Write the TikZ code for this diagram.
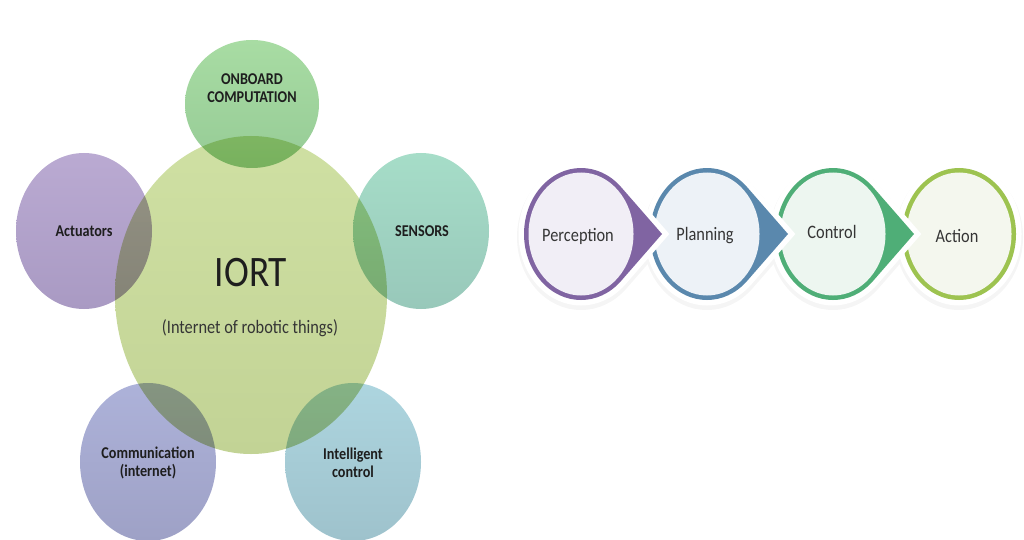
\documentclass[tikz,border=0pt]{standalone}
\usepackage{fontspec}
\setmainfont{Carlito}[FakeStretch=0.86]
\definecolor{cenT}{HTML}{CFE0A3}
\definecolor{cenB}{HTML}{C2D395}
\definecolor{onbT}{HTML}{A8DCA3}
\definecolor{onbB}{HTML}{96CB96}
\definecolor{actT}{HTML}{BAAAD2}
\definecolor{actB}{HTML}{A99AC3}
\definecolor{senT}{HTML}{A6DDC8}
\definecolor{senB}{HTML}{98C8BA}
\definecolor{comT}{HTML}{ADB2D9}
\definecolor{comB}{HTML}{9EA1C6}
\definecolor{intT}{HTML}{ADD5DF}
\definecolor{intB}{HTML}{9EC2CC}
\definecolor{cPer}{HTML}{8064A2}
\definecolor{cPln}{HTML}{5A88AD}
\definecolor{cCtl}{HTML}{4FAE77}
\definecolor{cAct}{HTML}{9DC350}
\definecolor{lPer}{HTML}{F1EEF6}
\definecolor{lPln}{HTML}{EDF2F7}
\definecolor{lCtl}{HTML}{EDF6F0}
\definecolor{lAct}{HTML}{F4F7EE}
\definecolor{txt}{HTML}{1E1E1E}
\begin{document}
\begin{tikzpicture}[x=1pt,y=-1pt,
  lbl/.style={font=\fontsize{16.5}{18}\selectfont\bfseries, text=txt, align=center, inner sep=0pt},
  stagetxt/.style={font=\fontsize{19}{22}\selectfont, text=txt!90, inner sep=0pt}]
\useasboundingbox (0,0) rectangle (1024,540);
% Venn-like cluster
\begin{scope}[blend group=multiply]
  \shade[top color=cenT, bottom color=cenB] (251,295) ellipse[x radius=136, y radius=159];
  \shade[top color=onbT, bottom color=onbB] (252,104) ellipse[x radius=67, y radius=64];
  \shade[top color=actT, bottom color=actB] (84,231) ellipse[x radius=68, y radius=78];
  \shade[top color=senT, bottom color=senB] (421,231) ellipse[x radius=68, y radius=78];
  \shade[top color=comT, bottom color=comB] (148,462) ellipse[x radius=68, y radius=79];
  \shade[top color=intT, bottom color=intB] (353,462) ellipse[x radius=68, y radius=79];
\end{scope}
\node[font=\fontsize{43.5}{48}\selectfont, text=txt, inner sep=0pt] (iort) at (251,273) {IORT};
\node[font=\fontsize{19}{22}\selectfont, text=txt!90, inner sep=0pt] (iortsub) at (250,328) {(Internet of robotic things)};
\node[lbl] (onb) at (252,88) {ONBOARD\\COMPUTATION};
\node[lbl] (act) at (84,231) {Actuators};
\node[lbl] (sen) at (422,231) {SENSORS};
\node[lbl] (com) at (148,463) {Communication\\(internet)};
\node[lbl] (intc) at (353,463) {Intelligent\\control};
% process: soft shadows
\fill[black!4] (959,237) ellipse[x radius=64, y radius=73];
\foreach \cx in {833,707,581} {
  \draw[black!4, fill=black!4, line width=14, line join=miter]
    (\cx+81,237) -- (\cx+40.1,237-46.9)
    arc[start angle=-45.3, end angle=-314.7, x radius=57, y radius=66] -- cycle;
}
% last stage: plain ring
\fill[white] (959,234) ellipse[x radius=62.5, y radius=71.5];
\fill[cAct] (959,234) ellipse[x radius=57, y radius=66];
\fill[lAct] (959,234) ellipse[x radius=52.5, y radius=61.5];
% stages with pointers, drawn right to left
\foreach \cx/\col/\lt in {833/cCtl/lCtl, 707/cPln/lPln, 581/cPer/lPer} {
  \draw[white, fill=white, line width=11, line join=miter]
    (\cx+81,234) -- (\cx+40.1,234-46.9)
    arc[start angle=-45.3, end angle=-314.7, x radius=57, y radius=66] -- cycle;
  \fill[\col]
    (\cx+81,234) -- (\cx+40.1,234-46.9)
    arc[start angle=-45.3, end angle=-314.7, x radius=57, y radius=66] -- cycle;
  \fill[\lt] (\cx,234) ellipse[x radius=52.5, y radius=61.5];
}
\node[stagetxt] (per) at (578,236) {Perception};
\node[stagetxt] (pln) at (705,236) {Planning};
\node[stagetxt] (ctl) at (832,232) {Control};
\node[stagetxt] (acn) at (957,236) {Action};
\end{tikzpicture}
\end{document}
